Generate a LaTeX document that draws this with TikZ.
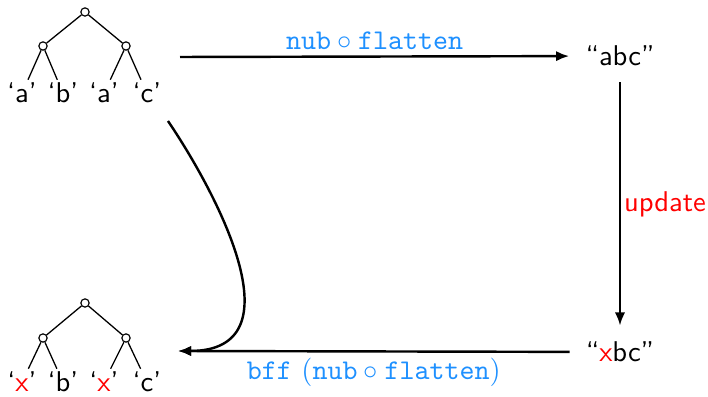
\documentclass[tikz,border=0pt]{standalone}
\usepackage{tikz}
\usetikzlibrary{arrows.meta}
\definecolor{codeblue}{RGB}{30,144,255}

\begin{document}
\begin{tikzpicture}[x=0.35pt, y=-0.35pt, font=\sffamily,
    knot/.style={draw, circle, inner sep=0pt, minimum size=2.9pt, line width=0.4pt},
    leaf/.style={anchor=base, inner sep=1pt},
    str/.style={inner sep=5.5pt},
    branch/.style={line width=0.45pt},
    map/.style={-{Latex[length=4.6pt,width=3.6pt]}, line width=0.85pt}]
    \useasboundingbox (0,0) rectangle (708,397);

    % tree before
    \node[knot] (top) at (85,12) {};
    \node[knot] (topl) at (43,46) {};
    \node[knot] (topr) at (126,46) {};
    \node[leaf] (ta) at (22,103) {`a'};
    \node[leaf] (tb) at (63,103) {`b'};
    \node[leaf] (tc) at (104,103) {`a'};
    \node[leaf] (td) at (147,103) {`c'};
    \draw[branch] (top) -- (topl);
    \draw[branch] (top) -- (topr);
    \draw[branch] (topl) -- (ta);
    \draw[branch] (topl) -- (tb);
    \draw[branch] (topr) -- (tc);
    \draw[branch] (topr) -- (td);

    % tree after
    \node[knot] (bot) at (85,303) {};
    \node[knot] (botl) at (43,338) {};
    \node[knot] (botr) at (126,338) {};
    \node[leaf] (ba) at (22,392) {`\textcolor{red}{x}'};
    \node[leaf] (bb) at (63,392) {`b'};
    \node[leaf] (bc) at (104,392) {`\textcolor{red}{x}'};
    \node[leaf] (bd) at (147,392) {`c'};
    \draw[branch] (bot) -- (botl);
    \draw[branch] (bot) -- (botr);
    \draw[branch] (botl) -- (ba);
    \draw[branch] (botl) -- (bb);
    \draw[branch] (botr) -- (bc);
    \draw[branch] (botr) -- (bd);

    % strings
    \node[str] (abc) at (620,56) {``abc''};
    \node[str] (xbc) at (620,352) {``\textcolor{red}{x}bc''};

    \coordinate (out) at (180,57);
    \coordinate (in) at (178,351);
    \coordinate (bend) at (168,121);

    \draw[map] (out) -- node[above, text=codeblue, inner sep=2pt] {$\texttt{nub}\circ\texttt{flatten}$} (abc);
    \draw[map] (abc) -- node[right, text=red, inner sep=1pt] {update} (xbc);
    \draw[map] (xbc) -- node[below, text=codeblue, inner sep=2pt] {\texttt{bff} $(\texttt{nub}\circ\texttt{flatten})$} (in);
    \draw[map] (bend) .. controls (218,195) and (300,351) .. (in);
\end{tikzpicture}
\end{document}
